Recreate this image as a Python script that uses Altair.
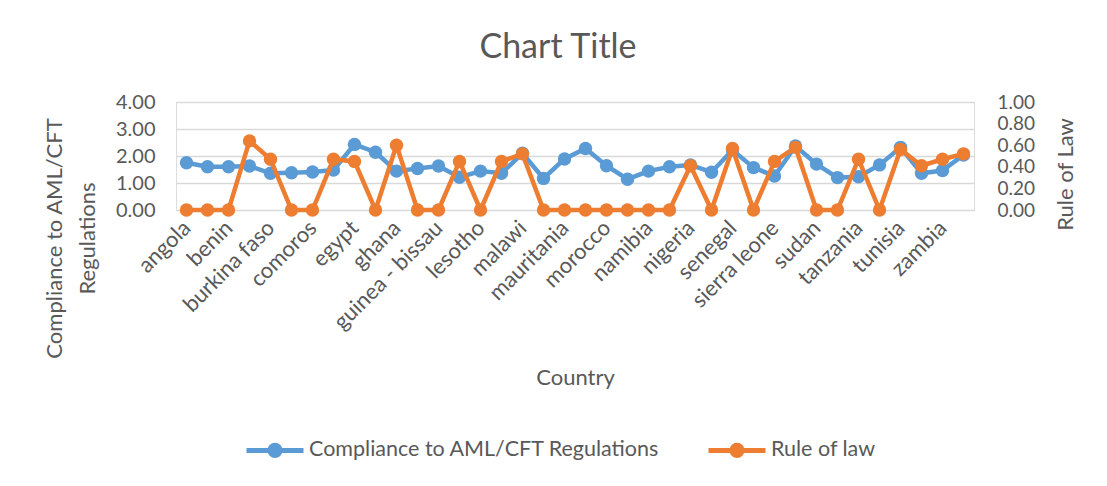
import altair as alt
import pandas as pd

countries = [
    "angola", "algeria", "benin", "botswana", "burkina faso", "cameroon",
    "comoros", "cote d'ivoire", "egypt", "ethiopia", "ghana", "guinea",
    "guinea - bissau", "kenya", "lesotho", "liberia", "malawi", "mali",
    "mauritania", "mauritius", "morocco", "mozambique", "namibia", "niger",
    "nigeria", "rwanda", "senegal", "seychelles", "sierra leone",
    "south africa", "sudan", "swaziland", "tanzania", "togo", "tunisia",
    "uganda", "zambia", "zimbabwe",
]
compliance = [
    1.75, 1.60, 1.60, 1.63, 1.36, 1.38, 1.41, 1.48, 2.43, 2.14,
    1.44, 1.54, 1.63, 1.21, 1.44, 1.36, 2.10, 1.17, 1.89, 2.28,
    1.64, 1.14, 1.44, 1.60, 1.67, 1.40, 2.22, 1.57, 1.26, 2.37,
    1.70, 1.20, 1.23, 1.67, 2.32, 1.36, 1.46, 2.04,
]
rule_of_law = [
    0.00, 0.00, 0.00, 0.64, 0.47, 0.00, 0.00, 0.47, 0.45, 0.00,
    0.60, 0.00, 0.00, 0.45, 0.00, 0.45, 0.52, 0.00, 0.00, 0.00,
    0.00, 0.00, 0.00, 0.00, 0.41, 0.00, 0.57, 0.00, 0.45, 0.58,
    0.00, 0.00, 0.47, 0.00, 0.56, 0.41, 0.47, 0.52,
]
shown_labels = countries[::2]
series_names = ["Compliance to AML/CFT Regulations", "Rule of law"]
series_colors = ["#5B9BD5", "#ED7D31"]
left_ticks = [0, 1, 2, 3, 4]
right_ticks = [0, 0.2, 0.4, 0.6, 0.8, 1.0]

FONT = "Lato"
TXT = "#595959"

df_c = pd.DataFrame({"country": countries, "series": series_names[0], "value": compliance})
df_r = pd.DataFrame({"country": countries, "series": series_names[1], "value": rule_of_law})

x_enc = alt.X(
    "country:N",
    sort=countries,
    axis=alt.Axis(
        values=shown_labels, title="Country", labelAngle=-45, labelAlign="right",
        labelBaseline="middle", labelPadding=14, domain=False, ticks=False, grid=False,
        labelFontSize=22, labelColor=TXT, labelFont=FONT, labelOverlap=False,
        titleFontSize=22, titleFontWeight="normal", titleColor=TXT, titleFont=FONT,
        titleY=167, titleBaseline="middle",
    ),
)

color_enc = alt.Color(
    "series:N",
    scale=alt.Scale(domain=series_names, range=series_colors),
    legend=alt.Legend(
        title=None, orient="none", direction="horizontal", legendX=68, legendY=317,
        symbolType="M-1,0L1,0M0.18,0A0.18,0.18,0,1,1,-0.18,0A0.18,0.18,0,1,1,0.18,0M0.1,0A0.1,0.1,0,1,1,-0.1,0A0.1,0.1,0,1,1,0.1,0M0.03,0A0.03,0.03,0,1,1,-0.03,0A0.03,0.03,0,1,1,0.03,0",
        symbolSize=3249, symbolStrokeWidth=5, labelFontSize=21.5, labelColor=TXT,
        labelFont=FONT, labelLimit=500, columnPadding=38, labelOffset=3,
    ),
)

left = alt.Chart(df_c).mark_line(
    strokeWidth=4.5,
    point=alt.OverlayMarkDef(filled=True, size=180, opacity=1),
).encode(
    x=x_enc,
    y=alt.Y(
        "value:Q",
        scale=alt.Scale(domain=[0, 4], nice=False, zero=True),
        axis=alt.Axis(
            values=left_ticks, format=".2f", grid=True, gridColor="#D9D9D9", gridWidth=1.5,
            domain=False, ticks=False, labelFontSize=20, labelColor=TXT, labelFont=FONT,
            labelPadding=21,
            title=["Compliance  to AML/CFT", "Regulations"], titleFontSize=22,
            titleFontWeight="normal", titleColor=TXT, titleFont=FONT, titleAngle=-90,
            titleX=-132, titleY=136, titleBaseline="top", titleAlign="center",
            titleLineHeight=33,
        ),
    ),
    color=color_enc,
)

right = alt.Chart(df_r).mark_line(
    strokeWidth=4.5,
    point=alt.OverlayMarkDef(filled=True, size=180, opacity=1),
).encode(
    x=x_enc,
    y=alt.Y(
        "value:Q",
        scale=alt.Scale(domain=[0, 1], nice=False, zero=True),
        axis=alt.Axis(
            orient="right", values=right_ticks, format=".2f", grid=False,
            domain=False, ticks=False, labelFontSize=19, labelColor=TXT, labelFont=FONT,
            labelPadding=23,
            title="Rule of Law", titleFontSize=22, titleFontWeight="normal",
            titleColor=TXT, titleFont=FONT, titleAngle=-90, titleX=91, titleY=72,
            titleBaseline="middle", titleAlign="center",
        ),
    ),
    color=color_enc,
)

chart = alt.layer(left, right).resolve_scale(y="independent").properties(
    width=798,
    height=108,
    autosize=alt.AutoSizeParams(type="none"),
    padding={"left": 168, "top": 94, "right": 125, "bottom": 268},
    title=alt.TitleParams(
        "Chart Title", fontSize=34, font=FONT, fontWeight="normal", color=TXT,
        anchor="middle", dx=-17, offset=0, baseline="alphabetic",
    ),
).configure_view(stroke=None).configure(background="white")

chart.save("out.html", embed_options={"renderer": "svg", "actions": False})
